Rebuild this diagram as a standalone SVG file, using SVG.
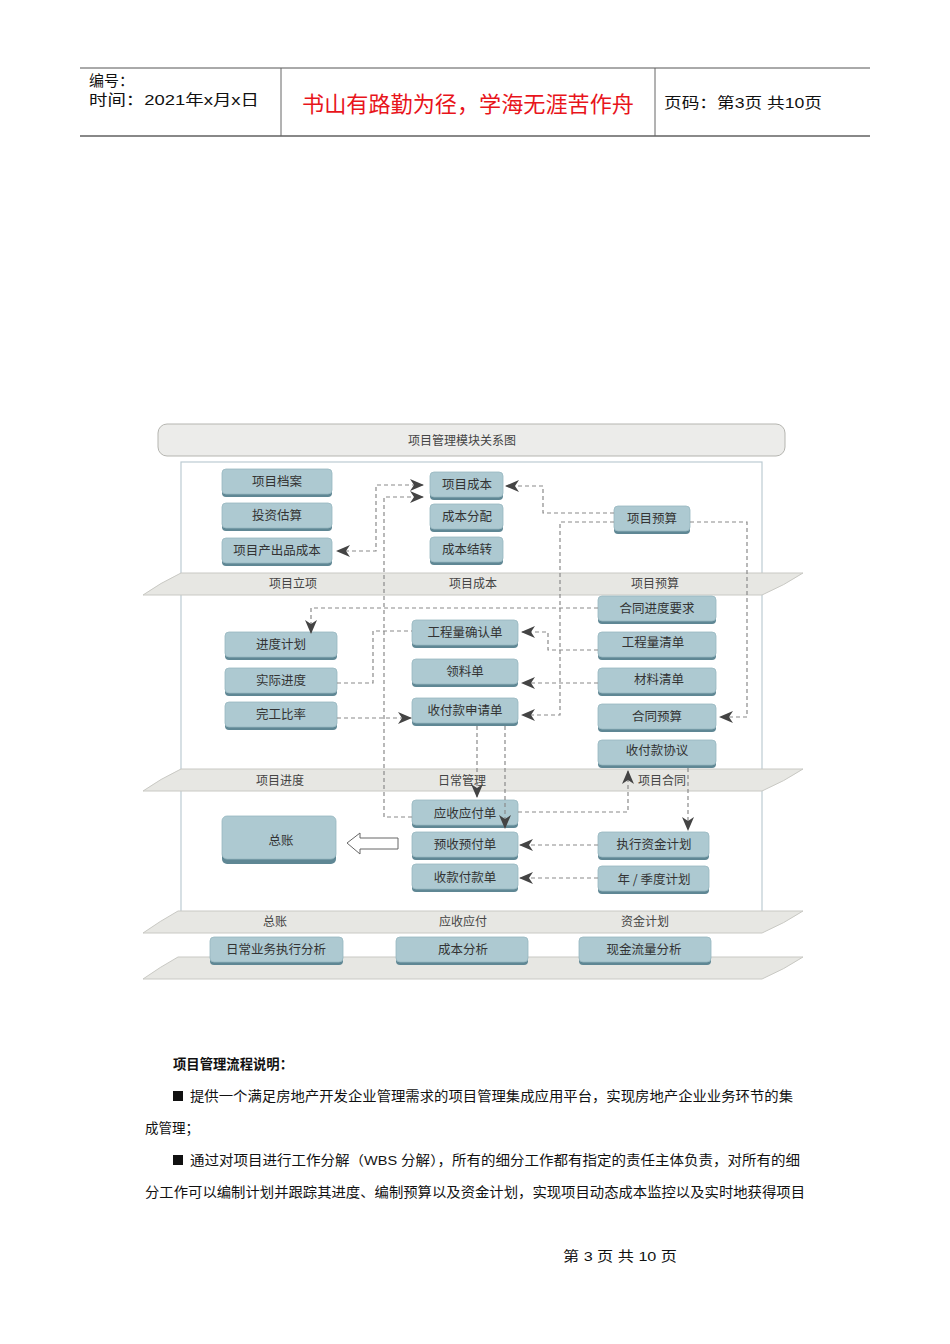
<svg xmlns="http://www.w3.org/2000/svg" width="950" height="1344" viewBox="0 0 950 1344">
<style>
.hdr{font-family:"Liberation Sans","Noto Sans CJK SC",sans-serif;fill:#111}
.cjk{font-family:"Noto Sans CJK SC",sans-serif}
.boxs{fill:#5f8794}
.boxm{fill:#adc9d1;stroke:#98b7c0;stroke-width:0.8}
.bt{font-family:"Noto Sans CJK SC",sans-serif;font-size:12.5px;fill:#333;text-anchor:middle}
.band{fill:#e7e7e3;stroke:#c9c9c4;stroke-width:1}
.bl{font-family:"Noto Sans CJK SC",sans-serif;font-size:12px;fill:#444;text-anchor:middle}
.con{fill:none;stroke:#8a8a8a;stroke-width:1.2;stroke-dasharray:4 3}
.body{font-family:"Liberation Sans","Noto Sans CJK SC",sans-serif;font-size:13.5px;fill:#111}
</style>
<defs>
<marker id="ah" viewBox="0 0 14 12" refX="13" refY="6" markerWidth="14" markerHeight="12" markerUnits="userSpaceOnUse" orient="auto-start-reverse">
<path d="M0,0 L14,6 L0,12 L4,6 Z" fill="#444"/>
</marker>
</defs>
<rect width="950" height="1344" fill="#fff"/>

<g id="header">
<line x1="80" y1="68" x2="870" y2="68" stroke="#555" stroke-width="1"/>
<line x1="80" y1="136" x2="870" y2="136" stroke="#888" stroke-width="2"/>
<line x1="281" y1="68" x2="281" y2="136" stroke="#666" stroke-width="1"/>
<line x1="655" y1="68" x2="655" y2="136" stroke="#666" stroke-width="1"/>
<text class="hdr" x="89" y="86" font-size="15">编号：</text>
<text class="hdr" x="89" y="105" font-size="15" textLength="170" lengthAdjust="spacingAndGlyphs">时间：2021年x月x日</text>
<text class="cjk" x="302" y="112" font-size="22" fill="#e8141b" textLength="332" lengthAdjust="spacingAndGlyphs">书山有路勤为径，学海无涯苦作舟</text>
<text class="hdr" x="664" y="108" font-size="15" textLength="158" lengthAdjust="spacingAndGlyphs">页码：第3页 共10页</text>
</g>

<g id="title">
<rect x="158" y="424" width="627" height="32" rx="9" fill="#ececea" stroke="#b5b5b0" stroke-width="1"/>
<text class="bl" x="462" y="445">项目管理模块关系图</text>
</g>
<rect id="panel" x="181" y="462" width="581" height="450" fill="#fff" stroke="#bccbd2" stroke-width="1.2"/>

<g id="bands">
<path class="band" d="M181,573 L803,573 Q785,585 762,595 L143,595 Q160,583 181,573 Z"/>
<text class="bl" x="293" y="588">项目立项</text>
<text class="bl" x="473" y="588">项目成本</text>
<text class="bl" x="655" y="588">项目预算</text>
<path class="band" d="M181,769 L803,769 Q785,781 762,791 L143,791 Q160,779 181,769 Z"/>
<text class="bl" x="280" y="785">项目进度</text>
<text class="bl" x="462" y="785">日常管理</text>
<text class="bl" x="662" y="785">项目合同</text>
<path class="band" d="M178,911 L803,911 Q785,923 762,933 L143,933 Q160,921 178,911 Z"/>
<text class="bl" x="275" y="926">总账</text>
<text class="bl" x="463" y="926">应收应付</text>
<text class="bl" x="645" y="926">资金计划</text>
<path class="band" d="M178,957 L803,957 Q785,969 762,979 L143,979 Q160,967 178,957 Z"/>
</g>

<g id="n1"><rect class="boxs" x="222" y="472" width="110" height="25" rx="4"/><rect class="boxm" x="222" y="469" width="110" height="25" rx="4"/><text class="bt" x="277" y="486">项目档案</text></g>
<g id="n2"><rect class="boxs" x="222" y="506" width="110" height="25" rx="4"/><rect class="boxm" x="222" y="503" width="110" height="25" rx="4"/><text class="bt" x="277" y="520">投资估算</text></g>
<g id="n3"><rect class="boxs" x="222" y="541" width="110" height="25" rx="4"/><rect class="boxm" x="222" y="538" width="110" height="25" rx="4"/><text class="bt" x="277" y="555">项目产出品成本</text></g>
<g id="n4"><rect class="boxs" x="430" y="475" width="73" height="25" rx="4"/><rect class="boxm" x="430" y="472" width="73" height="25" rx="4"/><text class="bt" x="467" y="489">项目成本</text></g>
<g id="n5"><rect class="boxs" x="430" y="507" width="73" height="25" rx="4"/><rect class="boxm" x="430" y="504" width="73" height="25" rx="4"/><text class="bt" x="467" y="521">成本分配</text></g>
<g id="n6"><rect class="boxs" x="430" y="540" width="73" height="25" rx="4"/><rect class="boxm" x="430" y="537" width="73" height="25" rx="4"/><text class="bt" x="467" y="554">成本结转</text></g>
<g id="n7"><rect class="boxs" x="614" y="509" width="76" height="25" rx="4"/><rect class="boxm" x="614" y="506" width="76" height="25" rx="4"/><text class="bt" x="652" y="523">项目预算</text></g>

<g id="n8"><rect class="boxs" x="225" y="635" width="112" height="25" rx="4"/><rect class="boxm" x="225" y="632" width="112" height="25" rx="4"/><text class="bt" x="281" y="649">进度计划</text></g>
<g id="n9"><rect class="boxs" x="225" y="671" width="112" height="25" rx="4"/><rect class="boxm" x="225" y="668" width="112" height="25" rx="4"/><text class="bt" x="281" y="685">实际进度</text></g>
<g id="n10"><rect class="boxs" x="225" y="705" width="112" height="25" rx="4"/><rect class="boxm" x="225" y="702" width="112" height="25" rx="4"/><text class="bt" x="281" y="719">完工比率</text></g>
<g id="n11"><rect class="boxs" x="412" y="623" width="106" height="25" rx="4"/><rect class="boxm" x="412" y="620" width="106" height="25" rx="4"/><text class="bt" x="465" y="637">工程量确认单</text></g>
<g id="n12"><rect class="boxs" x="412" y="662" width="106" height="25" rx="4"/><rect class="boxm" x="412" y="659" width="106" height="25" rx="4"/><text class="bt" x="465" y="676">领料单</text></g>
<g id="n13"><rect class="boxs" x="412" y="701" width="106" height="25" rx="4"/><rect class="boxm" x="412" y="698" width="106" height="25" rx="4"/><text class="bt" x="465" y="715">收付款申请单</text></g>
<g id="n14"><rect class="boxs" x="598" y="599" width="118" height="25" rx="4"/><rect class="boxm" x="598" y="596" width="118" height="25" rx="4"/><text class="bt" x="657" y="613">合同进度要求</text></g>
<g id="n15"><rect class="boxs" x="598" y="635" width="118" height="25" rx="4"/><rect class="boxm" x="598" y="632" width="118" height="25" rx="4"/><text class="bt" x="653" y="647">工程量清单</text></g>
<g id="n16"><rect class="boxs" x="598" y="671" width="118" height="25" rx="4"/><rect class="boxm" x="598" y="668" width="118" height="25" rx="4"/><text class="bt" x="659" y="684">材料清单</text></g>
<g id="n17"><rect class="boxs" x="598" y="707" width="118" height="25" rx="4"/><rect class="boxm" x="598" y="704" width="118" height="25" rx="4"/><text class="bt" x="657" y="721">合同预算</text></g>
<g id="n18"><rect class="boxs" x="598" y="743" width="118" height="25" rx="4"/><rect class="boxm" x="598" y="740" width="118" height="25" rx="4"/><text class="bt" x="657" y="755">收付款协议</text></g>

<g id="n19"><rect class="boxs" x="222" y="820" width="114" height="44" rx="5"/><rect class="boxm" x="222" y="816" width="114" height="43" rx="5"/><text class="bt" x="281" y="845">总账</text></g>
<g id="n20"><rect class="boxs" x="412" y="803" width="106" height="25" rx="4"/><rect class="boxm" x="412" y="800" width="106" height="25" rx="4"/><text class="bt" x="465" y="818">应收应付单</text></g>
<g id="n21"><rect class="boxs" x="412" y="835" width="106" height="25" rx="4"/><rect class="boxm" x="412" y="832" width="106" height="25" rx="4"/><text class="bt" x="465" y="849">预收预付单</text></g>
<g id="n22"><rect class="boxs" x="412" y="867" width="106" height="25" rx="4"/><rect class="boxm" x="412" y="864" width="106" height="25" rx="4"/><text class="bt" x="465" y="882">收款付款单</text></g>
<g id="n23"><rect class="boxs" x="598" y="835" width="111" height="25" rx="4"/><rect class="boxm" x="598" y="832" width="111" height="25" rx="4"/><text class="bt" x="654" y="849">执行资金计划</text></g>
<g id="n24"><rect class="boxs" x="598" y="869" width="111" height="25" rx="4"/><rect class="boxm" x="598" y="866" width="111" height="25" rx="4"/><text class="bt" x="654" y="884">年 / 季度计划</text></g>

<g id="n25"><rect class="boxs" x="210" y="940" width="133" height="25" rx="4"/><rect class="boxm" x="210" y="937" width="133" height="25" rx="4"/><text class="bt" x="276" y="954">日常业务执行分析</text></g>
<g id="n26"><rect class="boxs" x="396" y="940" width="132" height="25" rx="4"/><rect class="boxm" x="396" y="937" width="132" height="25" rx="4"/><text class="bt" x="463" y="954">成本分析</text></g>
<g id="n27"><rect class="boxs" x="579" y="940" width="132" height="25" rx="4"/><rect class="boxm" x="579" y="937" width="132" height="25" rx="4"/><text class="bt" x="644" y="954">现金流量分析</text></g>

<g id="hollow-arrow">
<path d="M347,843 L360,833 L360,838 L398,838 L398,849 L360,849 L360,854 Z" fill="#fff" stroke="#666" stroke-width="1"/>
</g>

<g id="connectors">
<path class="con" d="M423,485 L376,485 L376,551 L337,551" marker-start="url(#ah)" marker-end="url(#ah)"/>
<path class="con" d="M412,817 L384,817 L384,497 L423,497" marker-end="url(#ah)"/>
<path class="con" d="M614,513 L543,513 L543,486 L506,486" marker-end="url(#ah)"/>
<path class="con" d="M690,522 L747,522 L747,717 L720,717" marker-end="url(#ah)"/>
<path class="con" d="M614,522 L560,522 L560,715 L522,715" marker-end="url(#ah)"/>
<path class="con" d="M598,683 L522,683" marker-end="url(#ah)"/>
<path class="con" d="M598,650 L548,650 L548,632 L522,632" marker-end="url(#ah)"/>
<path class="con" d="M598,608 L311,608 L311,633" marker-end="url(#ah)"/>
<path class="con" d="M337,683 L373,683 L373,631 L412,631"/>
<path class="con" d="M337,718 L411,718" marker-end="url(#ah)"/>
<path class="con" d="M477,726 L477,797" marker-end="url(#ah)"/>
<path class="con" d="M505,726 L505,828" marker-end="url(#ah)"/>
<path class="con" d="M518,812 L628,812 L628,771" marker-end="url(#ah)"/>
<path class="con" d="M688,768 L688,830" marker-end="url(#ah)"/>
<path class="con" d="M598,845 L520,845" marker-end="url(#ah)"/>
<path class="con" d="M598,878 L520,878" marker-end="url(#ah)"/>
</g>

<g id="description">
<text class="body" x="173" y="1069" font-weight="bold" textLength="120" lengthAdjust="spacingAndGlyphs">项目管理流程说明：</text>
<rect x="173" y="1091" width="10" height="10" fill="#111"/>
<text class="body" x="190" y="1101" textLength="603" lengthAdjust="spacingAndGlyphs">提供一个满足房地产开发企业管理需求的项目管理集成应用平台，实现房地产企业业务环节的集</text>
<text class="body" x="145" y="1133">成管理；</text>
<rect x="173" y="1155" width="10" height="10" fill="#111"/>
<text class="body" x="190" y="1165" textLength="610" lengthAdjust="spacingAndGlyphs">通过对项目进行工作分解（WBS 分解），所有的细分工作都有指定的责任主体负责，对所有的细</text>
<text class="body" x="145" y="1197" textLength="660" lengthAdjust="spacingAndGlyphs">分工作可以编制计划并跟踪其进度、编制预算以及资金计划，实现项目动态成本监控以及实时地获得项目</text>
</g>
<text id="footer" class="body" x="563" y="1261" font-size="13" textLength="114" lengthAdjust="spacingAndGlyphs">第 3 页 共 10 页</text>
</svg>
